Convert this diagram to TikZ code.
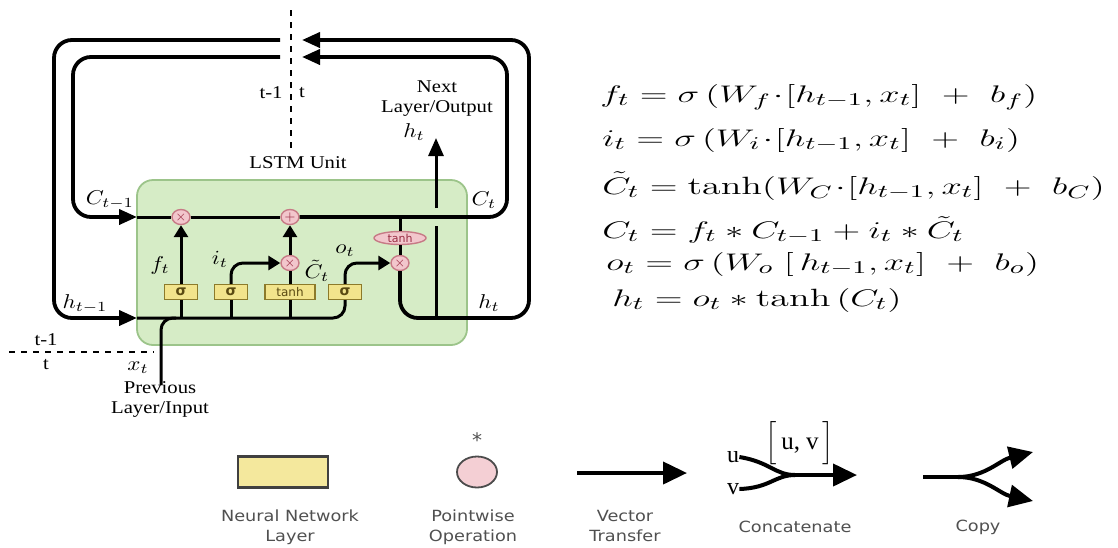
\documentclass[tikz,border=0pt]{standalone}
\usepackage{amsmath}
\usepackage{graphicx}
\usepackage{fontspec}
\newfontfamily\timesfont{Liberation Serif}
\newfontfamily\sansfont{DejaVu Sans}
\definecolor{cellGreen}{HTML}{D6ECC6}
\definecolor{cellEdge}{HTML}{9CC48A}
\definecolor{layerYellow}{HTML}{F2E48C}
\definecolor{layerEdge}{HTML}{8C7A2A}
\definecolor{layerText}{HTML}{5A4A12}
\definecolor{opPink}{HTML}{F2C6CC}
\definecolor{opEdge}{HTML}{C77A86}
\definecolor{opText}{HTML}{9A2E44}
\definecolor{legendGrey}{HTML}{505050}
\usetikzlibrary{positioning,arrows.meta,calc,shapes.geometric}
\newcommand{\sx}[1]{\scalebox{1.15}[1]{#1}}
\newcommand{\sxx}[2][1.52]{\scalebox{#1}[1]{#2}}
\begin{document}
\begin{tikzpicture}[x=0.5pt, y=-0.5pt,
  loop/.style={line width=1.9pt, rounded corners=9pt},
  flow/.style={line width=1.5pt, rounded corners=6pt},
  bigtip/.style={-{Triangle[length=9pt,width=7.5pt]}},
  tip/.style={-{Triangle[length=6pt,width=7pt]}},
  cell/.style={draw=cellEdge, fill=cellGreen, line width=0.9pt, rounded corners=8pt, minimum width=165pt, minimum height=82.5pt},
  gate/.style={draw=layerEdge, fill=layerYellow, line width=0.7pt, minimum width=16.5pt, minimum height=7.5pt, inner sep=0pt, font=\sansfont\fontsize{6}{6}\selectfont, text=layerText},
  pw/.style={ellipse, draw=opEdge, fill=opPink, line width=0.7pt, minimum width=9pt, minimum height=7.5pt, inner sep=0pt, font=\fontsize{6}{6}\selectfont, text=opText},
  lab/.style={font=\fontsize{10}{10}\selectfont, inner sep=0pt},
  txt/.style={font=\timesfont\fontsize{9}{10}\selectfont, inner sep=0pt},
  leg/.style={font=\sansfont\fontsize{7.7}{10}\selectfont, text=legendGrey, inner sep=0pt},
  eq/.style={font=\fontsize{12.5}{14}\selectfont, anchor=west, inner sep=0pt},
  legline/.style={line width=2pt},
  legtip/.style={-{Triangle[length=12pt,width=11pt]}}]
\useasboundingbox (0,0) rectangle (1118,547);

% the unit
\node[cell] (cell) at (302,262.5) {};
\node[pw] (fx) at (181,217) {$\times$};
\node[pw] (ax) at (290,217) {$+$};
\node[pw] (ix) at (290,263) {$\times$};
\node[pw] (ox) at (400,263) {$\times$};
\node[pw, minimum width=26pt, minimum height=6.5pt, font=\sansfont\fontsize{5.5}{6}\selectfont] (tn) at (400,238) {tanh};
\node[gate, font=\sansfont\bfseries\fontsize{7}{7}\selectfont] (s1) at (181,292) {σ};
\node[gate, font=\sansfont\bfseries\fontsize{7}{7}\selectfont] (s2) at (231,292) {σ};
\node[gate, minimum width=25pt] (tb) at (290,292) {tanh};
\node[gate, font=\sansfont\bfseries\fontsize{7}{7}\selectfont] (s4) at (345,292) {σ};

% time cuts
\coordinate (cutT) at (291,10);
\coordinate (cutB) at (291,150);
\draw[dashed, line width=1.2pt] (cutT) -- (cutB);
\draw[dashed, line width=1.2pt] (9,352) coordinate (cutL) -- (154,352) coordinate (cutR);
\coordinate (hL) at (280,40);  \coordinate (hR) at (302,40);
\coordinate (cL) at (280,57);  \coordinate (cR) at (302,57);
\coordinate (hin) at (137,318); \coordinate (cin) at (137,217);
\coordinate (xin) at (161,385);

% recurrent loops
\draw[loop, bigtip] (cL) -- (73,57) -- (73,217) -- (cin);
\draw[loop, bigtip] (hL) -- (54,40) -- (54,318) -- (hin);
\draw[loop, bigtip] (ax) -- (507,217) -- (507,57) -- (cR);
\draw[loop, bigtip] (ox) -- (400,318) -- (529,318) -- (529,40) -- (hR);

% cell state
\draw[flow] (cin) -- (fx);
\draw[flow] (fx) -- (ax);
\draw[flow] (400,217) -- (tn);
\draw[flow] (tn) -- (ox);

% input bus
\draw[flow] (hin) -- (345,318) -- (s4);
\draw[flow] (xin) -- (161,318) -- (176,318);
\foreach \g in {s1,s2,tb}
  \draw[flow] (\g.south |- hin) -- (\g);

% gates
\draw[flow, tip] (s1) -- (fx);
\draw[flow, tip] (s2) -- (231,263) -- (ix);
\draw[flow] (tb) -- (ix);
\draw[flow, tip] (ix) -- (ax);
\draw[flow, tip] (s4) -- (345,263) -- (ox);

% output
\coordinate (hjoin) at (436,318); \coordinate (gapLo) at (436,226);
\coordinate (gapHi) at (436,208); \coordinate (hout) at (436,138);
\draw[flow] (hjoin) -- (gapLo);
\draw[flow, bigtip] (gapHi) -- (hout);

% labels
\node[lab] (lft) at (160,265) {\sx{$f_t$}};
\node[lab] (lit) at (220,259) {\sx{$i_t$}};
\node[lab] (lct) at (317,271) {\sx{$\tilde{C}_t$}};
\node[lab] (lot) at (345,251) {\sx{$o_t$}};
\node[lab] (lcp) at (110,200) {\sx{$C_{t-1}$}};
\node[lab] (lcn) at (484,200) {\sx{$C_t$}};
\node[lab] (lhp) at (85,304) {\sx{$h_{t-1}$}};
\node[lab] (lhn) at (489,303) {\sx{$h_t$}};
\node[lab] (lho) at (414,132) {\sx{$h_t$}};
\node[lab] (lxt) at (138,368) {\sx{$x_t$}};
\node[txt] (tpa) at (271,93) {\sx{t-1}};
\node[txt] (tpb) at (302,93) {\sx{t}};
\node[txt] (tpc) at (46,340) {\sx{t-1}};
\node[txt] (tpd) at (46,365) {\sx{t}};
\node[txt] (unit) at (298,163) {\sx{LSTM Unit}};
\node[txt] (nextout) at (437,98) {\sx{\begin{tabular}{@{}c@{}}Next\\Layer/Output\end{tabular}}};
\node[txt] (previn) at (160,399) {\sx{\begin{tabular}{@{}c@{}}Previous\\Layer/Input\end{tabular}}};

% equations
\node[eq] (eqf) at (600,97)  {\sxx{$f_t=\sigma\,(W_f\!\cdot\![h_{t-1},x_t]\ +\ b_f)$}};
\node[eq] (eqi) at (602,140) {\sxx{$i_t=\sigma\,(W_i\!\cdot\![h_{t-1},x_t]\ +\ b_i)$}};
\node[eq] (eqc) at (602,186) {\sxx{$\tilde{C}_t=\tanh(W_C\!\cdot\![h_{t-1},x_t]\ +\ b_C)$}};
\node[eq] (eqC) at (602,230) {\sxx{$C_t=f_t*C_{t-1}+i_t*\tilde{C}_t$}};
\node[eq] (eqo) at (606,264) {\sxx{$o_t=\sigma\,(W_o\;[\,h_{t-1},x_t]\ +\ b_o)$}};
\node[eq] (eqh) at (612,300) {\sxx{$h_t=o_t*\tanh\,(C_t)$}};

% legend
\node[draw=black!75, fill=layerYellow!85, line width=1.2pt, minimum width=45pt, minimum height=15.5pt] (lglayer) at (283,472) {};
\node[leg] (lgtlayer) at (290,527) {\sx{\begin{tabular}{@{}c@{}}Neural Network\\Layer\end{tabular}}};
\node[ellipse, draw=black!70, fill=opPink!85, line width=0.9pt, minimum width=20pt, minimum height=15.5pt] (lgop) at (477,472) {};
\node[leg, font=\sansfont\fontsize{10}{10}\selectfont] (lgstar) at (477,440) {*};
\node[leg] (lgtop) at (473,527) {\sx{\begin{tabular}{@{}c@{}}Pointwise\\Operation\end{tabular}}};
\coordinate (vecA) at (577,473); \coordinate (vecB) at (687,473);
\draw[legline, legtip] (vecA) -- (vecB);
\node[leg] (lgtvec) at (625,527) {\sx{\begin{tabular}{@{}c@{}}Vector\\Transfer\end{tabular}}};
\node[txt, font=\timesfont\fontsize{12}{12}\selectfont] (lgu) at (733,457) {u};
\node[txt, font=\timesfont\fontsize{12}{12}\selectfont] (lgv) at (733,489) {v};
\coordinate (catJ) at (795,475); \coordinate (catB) at (857,475);
\draw[legline] (lgu.east) .. controls (770,462) and (775,475) .. (catJ);
\draw[legline] (lgv.east) .. controls (770,488) and (775,475) .. (catJ);
\draw[legline, legtip] (catJ) -- (catB);
\node[txt, font=\timesfont\fontsize{12.5}{12.5}\selectfont] (lguv) at (800,443) {$\Bigl[$\,u, v\,$\Bigr]$};
\node[leg] (lgtcat) at (795,527) {\sx{Concatenate}};
\coordinate (cpyA) at (923,477); \coordinate (cpyJ) at (958,477);
\coordinate (cpyU) at (1033,452); \coordinate (cpyD) at (1033,501);
\draw[legline] (cpyA) -- (cpyJ);
\draw[legline, legtip] (cpyJ) .. controls (985,477) and (1000,460) .. (cpyU);
\draw[legline, legtip] (cpyJ) .. controls (985,477) and (1000,494) .. (cpyD);
\node[leg] (lgtcpy) at (978,527) {\sx{Copy}};
\end{tikzpicture}
\end{document}
